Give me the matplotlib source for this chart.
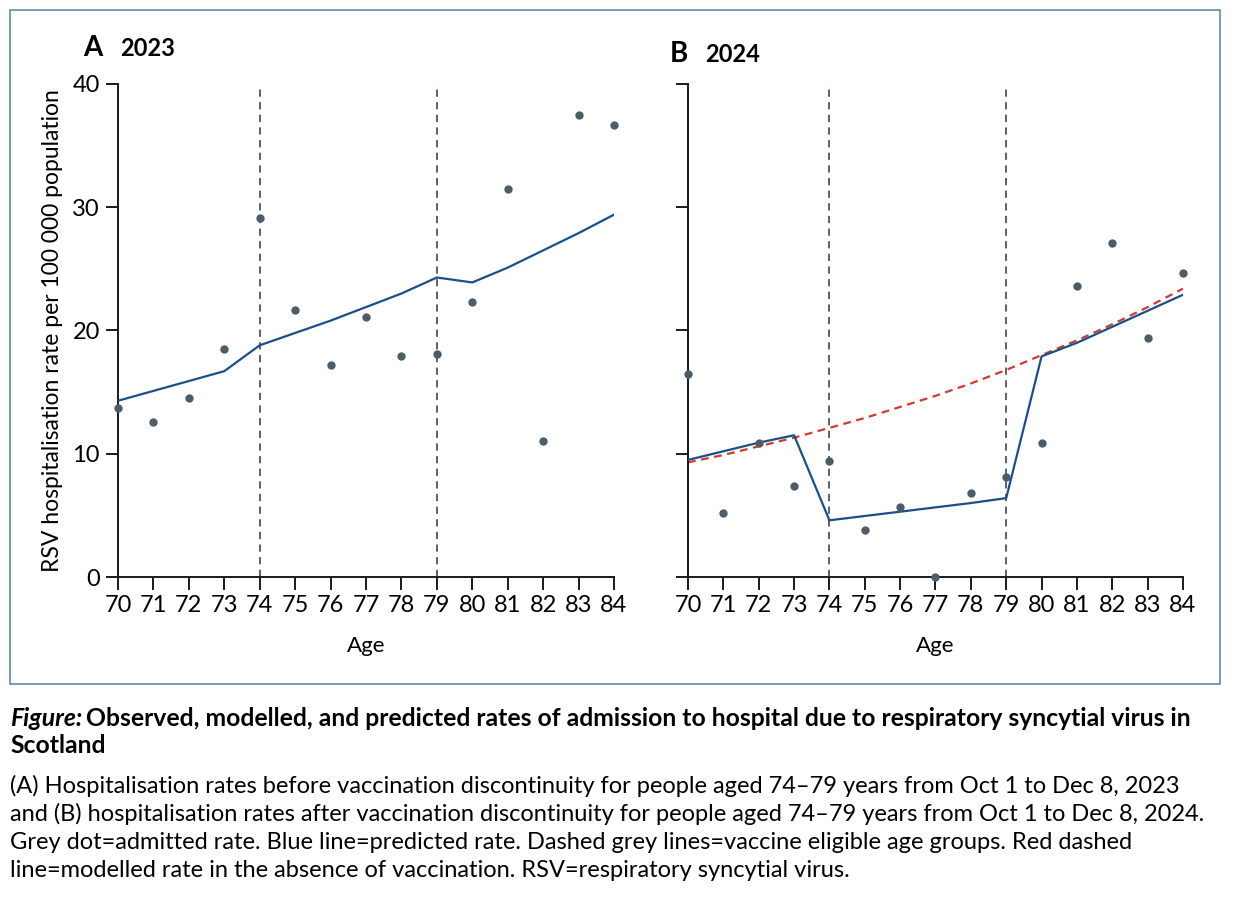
import matplotlib
matplotlib.use('Agg')
import matplotlib.pyplot as plt
from matplotlib.patches import Rectangle

ages = list(range(70, 85))

# panel A, 2023
obs_2023 = [13.7, 12.6, 14.5, 18.5, 29.1, 21.7, 17.2, 21.1, 17.9, 18.1,
            22.3, 31.5, 11.0, 37.5, 36.7]
pred_2023 = [14.3, 15.1, 15.9, 16.7, 18.8, 19.8, 20.8, 21.9, 23.0, 24.3,
             23.9, 25.1, 26.5, 27.9, 29.4]

# panel B, 2024
obs_2024 = [16.5, 5.2, 10.9, 7.4, 9.4, 3.8, 5.7, 0.0, 6.8, 8.1,
            10.9, 23.6, 27.1, 19.4, 24.7]
pred_2024 = [9.5, 10.2, 10.9, 11.5, 4.6, 4.95, 5.3, 5.65, 6.0, 6.4,
             17.9, 19.0, 20.3, 21.6, 22.9]
novacc_2024 = [9.3, 9.9, 10.6, 11.3, 12.1, 12.9, 13.8, 14.7, 15.7, 16.8,
               18.0, 19.2, 20.5, 21.9, 23.4]

eligible = [74, 79]
yticks = [0, 10, 20, 30, 40]

caption_title = ('Observed, modelled, and predicted rates of admission to hospital '
                 'due to respiratory syncytial virus in')
caption_body = [
    '(A) Hospitalisation rates before vaccination discontinuity for people aged 74\u201379 years from Oct 1 to Dec 8, 2023',
    'and (B) hospitalisation rates after vaccination discontinuity for people aged 74\u201379 years from Oct 1 to Dec 8, 2024.',
    'Grey dot=admitted rate. Blue line=predicted rate. Dashed grey lines=vaccine eligible age groups. Red dashed',
    'line=modelled rate in the absence of vaccination. RSV=respiratory syncytial virus.',
]

DOT = '#4d5d67'
BLUE = '#1b4f8a'
RED = '#d33a2f'
VLINE = '#4a5660'
FAM = ['Lato', 'DejaVu Sans']

fig = plt.figure(figsize=(12.4, 9.18), dpi=100)

fig.patches.append(Rectangle((10 / 1240, 1 - 684 / 918), 1210 / 1240, 674 / 918,
                             transform=fig.transFigure, fill=False,
                             edgecolor='#5f8bb0', linewidth=1.2))


def panel(ax, obs, pred, show_ylabels, extra=None):
    for a in eligible:
        ax.axvline(a, color=VLINE, linestyle=(0, (4, 3)), linewidth=1.3, zorder=1)
    if extra is not None:
        ax.plot(ages, extra, color=RED, linestyle=(0, (3.5, 2.5)),
                linewidth=1.6, zorder=2)
    ax.plot(ages, pred, color=BLUE, linewidth=1.6, zorder=3)
    ax.plot(ages, obs, 'o', color=DOT, markersize=6, markeredgewidth=0,
            clip_on=False, zorder=5)
    ax.set_xlim(70, 84)
    ax.set_ylim(0, 40)
    ax.set_xticks(ages)
    ax.set_yticks(yticks)
    ax.set_xticklabels([str(a) for a in ages], family=FAM, fontsize=17)
    if show_ylabels:
        ax.set_yticklabels([str(v) for v in yticks], family=FAM, fontsize=17)
        ax.set_ylabel('RSV hospitalisation rate per 100 000 population',
                      family=FAM, fontsize=16.5, labelpad=7)
    else:
        ax.set_yticklabels([])
    ax.set_xlabel('Age', family=FAM, fontsize=16, labelpad=14)
    for s in ['top', 'right']:
        ax.spines[s].set_visible(False)
    for s in ['left', 'bottom']:
        ax.spines[s].set_linewidth(1.4)
        ax.spines[s].set_color('#1a1a1a')
    ax.tick_params(length=9, width=1.4, color='#1a1a1a', pad=4)


axA = fig.add_axes([118 / 1240, 1 - 577 / 918, 496 / 1240, 493 / 918])
axB = fig.add_axes([688 / 1240, 1 - 577 / 918, 495 / 1240, 493 / 918])
panel(axA, obs_2023, pred_2023, True)
panel(axB, obs_2024, pred_2024, False, extra=novacc_2024)

fig.text(83 / 1240, 1 - 56 / 918, 'A', family=FAM, fontweight='bold', fontsize=20)
fig.text(120 / 1240, 1 - 56 / 918, '2023', family=FAM, fontweight='bold', fontsize=17)
fig.text(670 / 1240, 1 - 62 / 918, 'B', family=FAM, fontweight='bold', fontsize=20)
fig.text(705 / 1240, 1 - 62 / 918, '2024', family=FAM, fontweight='bold', fontsize=17)

# caption: sizes picked so lines span like the reference
fig.canvas.draw()
r = fig.canvas.get_renderer()
probe = fig.text(0, 0, caption_body[0], family=FAM, fontsize=16)
w = probe.get_window_extent(renderer=r).width
probe.remove()
cap_size = 16 * 1175 / w

probe = fig.text(0, 0, 'Figure: ' + caption_title, family=FAM, fontsize=16,
                 fontweight='bold')
w = probe.get_window_extent(renderer=r).width
probe.remove()
title_size = 16 * 1195 / w

t0 = fig.text(10 / 1240, 1 - 726 / 918, 'Figure:', family=FAM, fontsize=title_size,
              fontweight='bold', fontstyle='italic')
bb = t0.get_window_extent(renderer=r)
fig.text((bb.x1 + 4) / 1240, 1 - 726 / 918, caption_title,
         family=FAM, fontsize=title_size, fontweight='bold')
fig.text(10 / 1240, 1 - 753 / 918, 'Scotland', family=FAM, fontsize=title_size,
         fontweight='bold')
for i, line in enumerate(caption_body):
    fig.text(10 / 1240, 1 - (793 + 28 * i) / 918, line, family=FAM,
             fontsize=cap_size)

fig.savefig('out.png', dpi=100, facecolor='white')
